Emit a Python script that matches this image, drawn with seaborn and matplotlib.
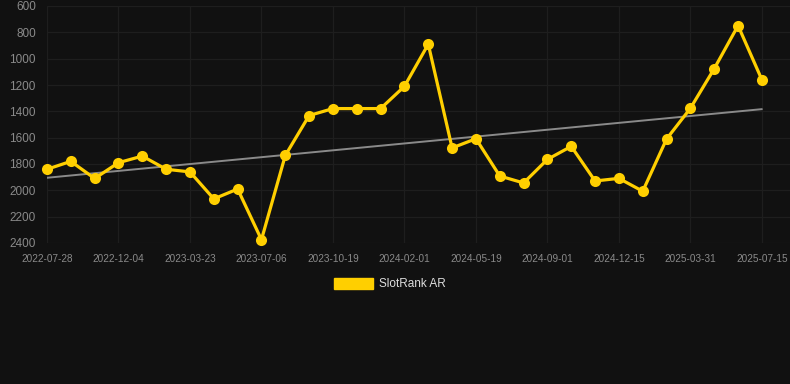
import numpy as np
import pandas as pd
import matplotlib
matplotlib.use("Agg")
import matplotlib.pyplot as plt
import seaborn as sns

# rank values (lower = better, axis inverted)
ranks = [1840, 1780, 1910, 1790, 1740, 1840, 1860, 2065, 1990, 2375,
         1735, 1432, 1379, 1379, 1379, 1210, 890, 1678, 1608, 1891,
         1944, 1765, 1666, 1929, 1909, 2007, 1610, 1377, 1076, 749, 1160]
tick_idx = [0, 3, 6, 9, 12, 15, 18, 21, 24, 27, 30]
tick_labels = ["2022-07-28", "2022-12-04", "2023-03-23", "2023-07-06", "2023-10-19",
               "2024-02-01", "2024-05-19", "2024-09-01", "2024-12-15", "2025-03-31",
               "2025-07-15"]
y_ticks = [600, 800, 1000, 1200, 1400, 1600, 1800, 2000, 2200, 2400]

df = pd.DataFrame({"idx": np.arange(len(ranks)), "rank": ranks})

bg = "#111111"
yellow = "#FFCF00"
sns.set_style("dark")
plt.rcParams["font.family"] = ["Liberation Sans", "DejaVu Sans"]

fig = plt.figure(figsize=(7.9, 3.84), dpi=100, facecolor=bg)
ax = fig.add_axes([47/790, 1 - 243/384, 1 - 47/790, 237/384])
ax.set_facecolor(bg)

sns.regplot(data=df, x="idx", y="rank", scatter=False, ci=None, ax=ax,
            line_kws={"color": "#8a8a8a", "lw": 1.4, "zorder": 2})
sns.lineplot(data=df, x="idx", y="rank", ax=ax, color=yellow, lw=2.3,
             marker="o", markersize=8, markeredgewidth=0, zorder=3, clip_on=False)

ax.set_xlim(0, 31.18)
ax.set_ylim(2400, 600)
ax.set_yticks(y_ticks)
ax.set_xticks(tick_idx)
ax.set_xticklabels(tick_labels)
ax.set_xlabel("")
ax.set_ylabel("")
ax.grid(True, color="#1e1e1e", lw=0.9)
ax.tick_params(axis="x", colors="#1e1e1e", labelcolor="#8a8a8a", labelsize=7.2,
               length=5, pad=3)
ax.tick_params(axis="y", colors="#1e1e1e", labelcolor="#8a8a8a", labelsize=8.5,
               length=5, pad=3)
for s in ax.spines.values():
    s.set_visible(False)

handle = plt.Rectangle((0, 0), 1, 1, color=yellow)
fig.legend([handle], ["SlotRank AR"], loc="center", bbox_to_anchor=(390/790, 1 - 284/384),
           frameon=False, handlelength=3.3, handleheight=1.1, handletextpad=0.5,
           labelcolor="#dddddd", fontsize=8.5)

fig.savefig("out.png", dpi=100, facecolor=bg)
